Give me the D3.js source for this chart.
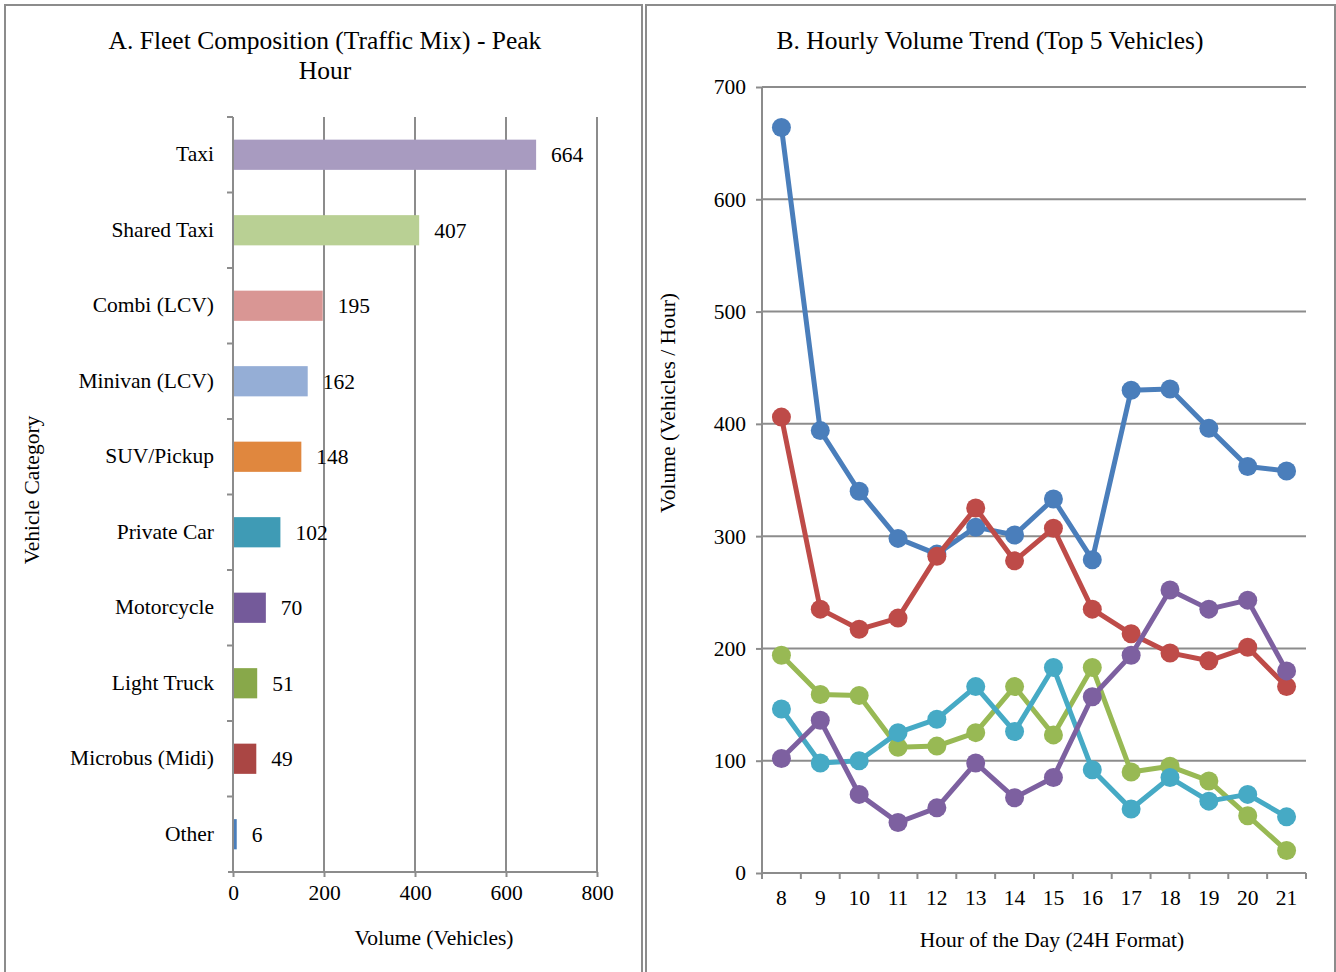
<!DOCTYPE html>
<html><head><meta charset="utf-8">
<script src="https://cdn.jsdelivr.net/npm/d3@7"></script>
<style>body{margin:0;background:#fff}svg{display:block;font-family:"Liberation Serif","Times New Roman",serif}</style>
</head><body><svg id="c" width="1336" height="972"></svg>
<script>
const categories=["Taxi","Shared Taxi","Combi (LCV)","Minivan (LCV)","SUV/Pickup","Private Car","Motorcycle","Light Truck","Microbus (Midi)","Other"];
const volumes=[664,407,195,162,148,102,70,51,49,6];
const barColors=["#A89BC0","#B9D094","#D99694","#95AED6","#E0873E","#3F9BB5","#745A9A","#88A84A","#AA4644","#4A7EBB"];
const xTicksA=[0,200,400,600,800];
const hours=[8,9,10,11,12,13,14,15,16,17,18,19,20,21];
const sTaxi=[664,394,340,298,284,308,301,333,279,430,431,396,362,358];
const sShared=[406,235,217,227,282,325,278,307,235,213,196,189,201,166];
const sCombi=[194,159,158,112,113,125,166,123,183,90,95,82,51,20];
const sMinivan=[146,98,100,125,137,166,126,183,92,57,85,64,70,50];
const sSuv=[102,136,70,45,58,98,67,85,157,194,252,235,243,180];
const lineColors=["#4A7EBB","#BE4B48","#98B954","#46AAC5","#7D60A0"];
const yTicksB=[0,100,200,300,400,500,600,700];

const FS=21.5, TFS=25.5;
const svg=d3.select("#c");
const grid="#8c8c8c";
svg.append("rect").attr("x",5).attr("y",5).attr("width",637).attr("height",990).attr("fill","none").attr("stroke",grid).attr("stroke-width",2);
svg.append("rect").attr("x",646).attr("y",5).attr("width",689).attr("height",990).attr("fill","none").attr("stroke",grid).attr("stroke-width",2);

// ---------- Chart A ----------
const A={l:233,r:597,t:117,b:872};
const xA=d3.scaleLinear().domain([0,800]).range([A.l,A.r]);
const yA=d3.scaleBand().domain(categories).range([A.t,A.b]).paddingInner(0.6).paddingOuter(0.3);
const gA=svg.append("g");
gA.selectAll(".g").data(xTicksA.slice(1)).join("line").attr("x1",d=>xA(d)).attr("x2",d=>xA(d)).attr("y1",A.t).attr("y2",A.b).attr("stroke",grid).attr("stroke-width",2);
gA.append("g").attr("transform",`translate(0,${A.b})`).call(d3.axisBottom(xA).tickValues(xTicksA).tickSize(5).tickPadding(8))
 .call(g=>{g.select(".domain").attr("stroke",grid).attr("stroke-width",2).attr("d",`M${A.l-5},0H${A.r}`);g.selectAll("line").attr("stroke",grid).attr("stroke-width",2);g.selectAll("text").attr("font-size",FS).attr("font-family","Liberation Serif").attr("fill","#000");});
gA.append("line").attr("x1",A.l).attr("x2",A.l).attr("y1",A.t).attr("y2",A.b).attr("stroke",grid).attr("stroke-width",2);
const stepA=(A.b-A.t)/categories.length;
gA.selectAll(".yt").data(d3.range(categories.length)).join("line").attr("x1",A.l-6).attr("x2",A.l).attr("y1",i=>A.t+i*stepA).attr("y2",i=>A.t+i*stepA).attr("stroke",grid).attr("stroke-width",2);
gA.selectAll(".bar").data(categories).join("rect").attr("x",xA(0)+1).attr("y",d=>yA(d)).attr("height",yA.bandwidth()).attr("width",(d,i)=>xA(volumes[i])-xA(0)).attr("fill",(d,i)=>barColors[i]);
gA.selectAll(".vl").data(categories).join("text").attr("x",(d,i)=>xA(volumes[i])+16).attr("y",d=>yA(d)+yA.bandwidth()/2).attr("dy","0.35em").attr("font-size",FS).text((d,i)=>volumes[i]);
gA.selectAll(".cl").data(categories).join("text").attr("x",214).attr("y",d=>yA(d)+yA.bandwidth()/2).attr("dy","0.3em").attr("text-anchor","end").attr("font-size",FS).text(d=>d);
gA.append("text").attr("x",325).attr("y",49).attr("text-anchor","middle").attr("font-size",TFS).text("A. Fleet Composition (Traffic Mix) - Peak");
gA.append("text").attr("x",325).attr("y",79).attr("text-anchor","middle").attr("font-size",TFS).text("Hour");
gA.append("text").attr("x",434).attr("y",945).attr("text-anchor","middle").attr("font-size",FS).text("Volume (Vehicles)");
gA.append("text").attr("transform","translate(39,490) rotate(-90)").attr("text-anchor","middle").attr("font-size",FS).text("Vehicle Category");

// ---------- Chart B ----------
const B={l:762,r:1306,t:87,b:873};
const xB=d3.scaleBand().domain(hours).range([B.l,B.r]);
const yB=d3.scaleLinear().domain([0,700]).range([B.b,B.t]);
const gB=svg.append("g");
gB.selectAll(".g").data(yTicksB.slice(1)).join("line").attr("x1",B.l).attr("x2",B.r).attr("y1",d=>yB(d)).attr("y2",d=>yB(d)).attr("stroke",grid).attr("stroke-width",2);
gB.append("g").attr("transform",`translate(${B.l},0)`).call(d3.axisLeft(yB).tickValues(yTicksB).tickSize(6).tickPadding(10))
 .call(g=>{g.select(".domain").attr("stroke",grid).attr("stroke-width",2).attr("d",`M0,${B.t}V${B.b}`);g.selectAll("line").attr("stroke",grid).attr("stroke-width",2);g.selectAll("text").attr("font-size",FS).attr("font-family","Liberation Serif").attr("fill","#000");});
gB.append("line").attr("x1",B.l).attr("x2",B.r).attr("y1",B.b).attr("y2",B.b).attr("stroke",grid).attr("stroke-width",2);
const bounds=d3.range(hours.length+1).map(i=>B.l+i*xB.step());
gB.selectAll(".xt").data(bounds).join("line").attr("x1",d=>d).attr("x2",d=>d).attr("y1",B.b).attr("y2",B.b+6).attr("stroke",grid).attr("stroke-width",2);
gB.selectAll(".xl").data(hours).join("text").attr("x",d=>xB(d)+xB.bandwidth()/2).attr("y",B.b+32).attr("text-anchor","middle").attr("font-size",FS).text(d=>d);
const series=[sTaxi,sShared,sCombi,sMinivan,sSuv];
const line=d3.line().x((d,i)=>xB(hours[i])+xB.bandwidth()/2).y(d=>yB(d));
series.forEach((s,k)=>{
  gB.append("path").attr("d",line(s)).attr("fill","none").attr("stroke",lineColors[k]).attr("stroke-width",5).attr("stroke-linejoin","round");
  gB.selectAll(".p"+k).data(s).join("circle").attr("cx",(d,i)=>xB(hours[i])+xB.bandwidth()/2).attr("cy",d=>yB(d)).attr("r",9.5).attr("fill",lineColors[k]);
});
gB.append("text").attr("x",990).attr("y",49).attr("text-anchor","middle").attr("font-size",TFS).text("B. Hourly Volume Trend (Top 5 Vehicles)");
gB.append("text").attr("x",1052).attr("y",947).attr("text-anchor","middle").attr("font-size",FS).text("Hour of the Day (24H Format)");
gB.append("text").attr("transform","translate(675,403) rotate(-90)").attr("text-anchor","middle").attr("font-size",FS).text("Volume (Vehicles / Hour)");
</script></body></html>
